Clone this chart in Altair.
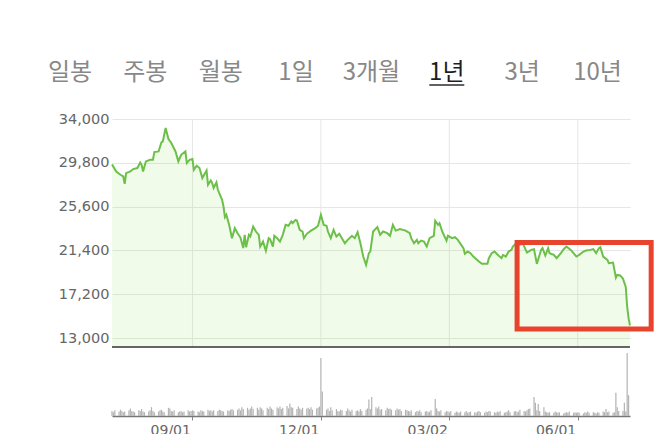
import altair as alt
import pandas as pd

# ---------------- data ----------------
tabs = ["일봉", "주봉", "월봉", "1일", "3개월", "1년", "3년", "10년"]
active_tab = "1년"

price_dates = [
    "2022-07-06", "2022-07-09", "2022-07-12", "2022-07-14", "2022-07-15", "2022-07-16", "2022-07-19",
    "2022-07-21", "2022-07-24", "2022-07-26", "2022-07-27", "2022-07-28", "2022-07-30", "2022-08-02",
    "2022-08-04", "2022-08-05", "2022-08-08", "2022-08-10", "2022-08-11", "2022-08-13", "2022-08-15",
    "2022-08-17", "2022-08-20", "2022-08-22", "2022-08-24", "2022-08-27", "2022-08-28", "2022-08-30",
    "2022-09-01", "2022-09-02", "2022-09-04", "2022-09-06", "2022-09-08", "2022-09-11", "2022-09-12",
    "2022-09-14", "2022-09-15", "2022-09-16", "2022-09-18", "2022-09-19", "2022-09-22", "2022-09-23",
    "2022-09-24", "2022-09-25", "2022-09-27", "2022-09-29", "2022-10-01", "2022-10-03", "2022-10-05",
    "2022-10-07", "2022-10-08", "2022-10-09", "2022-10-11", "2022-10-12", "2022-10-14", "2022-10-16",
    "2022-10-18", "2022-10-19", "2022-10-21", "2022-10-23", "2022-10-25", "2022-10-26", "2022-10-28",
    "2022-10-29", "2022-10-31", "2022-11-02", "2022-11-04", "2022-11-06", "2022-11-08", "2022-11-10",
    "2022-11-11", "2022-11-13", "2022-11-14", "2022-11-16", "2022-11-18", "2022-11-19", "2022-11-21",
    "2022-11-24", "2022-11-27", "2022-11-29", "2022-12-01", "2022-12-03", "2022-12-05", "2022-12-06",
    "2022-12-08", "2022-12-10", "2022-12-12", "2022-12-14", "2022-12-18", "2022-12-20", "2022-12-23",
    "2022-12-25", "2022-12-27", "2022-12-29", "2022-12-31", "2023-01-02", "2023-01-04", "2023-01-05",
    "2023-01-07", "2023-01-10", "2023-01-12", "2023-01-14", "2023-01-17", "2023-01-19", "2023-01-21",
    "2023-01-23", "2023-01-26", "2023-01-30", "2023-02-02", "2023-02-03", "2023-02-05", "2023-02-07",
    "2023-02-08", "2023-02-10", "2023-02-12", "2023-02-14", "2023-02-16", "2023-02-19", "2023-02-20",
    "2023-02-22", "2023-02-23", "2023-02-25", "2023-02-28", "2023-03-01", "2023-03-04", "2023-03-06",
    "2023-03-08", "2023-03-12", "2023-03-13", "2023-03-15", "2023-03-17", "2023-03-19", "2023-03-23",
    "2023-03-25", "2023-03-29", "2023-03-30", "2023-04-01", "2023-04-03", "2023-04-06", "2023-04-08",
    "2023-04-09", "2023-04-11", "2023-04-13", "2023-04-15", "2023-04-16", "2023-04-18", "2023-04-21",
    "2023-04-23", "2023-04-26", "2023-04-29", "2023-05-01", "2023-05-03", "2023-05-06", "2023-05-07",
    "2023-05-09", "2023-05-11", "2023-05-12", "2023-05-15", "2023-05-17", "2023-05-20", "2023-05-22",
    "2023-05-24", "2023-05-27", "2023-05-29", "2023-05-31", "2023-06-02", "2023-06-05", "2023-06-07",
    "2023-06-10", "2023-06-12", "2023-06-14", "2023-06-16", "2023-06-17", "2023-06-19", "2023-06-22",
    "2023-06-23", "2023-06-26", "2023-06-28", "2023-06-29", "2023-07-01", "2023-07-03", "2023-07-05",
    "2023-07-06", "2023-07-07", "2023-07-08",
]
price_values = [
    29650, 28970, 28650, 28490, 27790, 28810, 28970,
    29200, 29300, 29830, 29610, 28970, 29930, 30090,
    30090, 30830, 30890, 31750, 31850, 33130, 32080,
    31700, 30890, 29930, 30570, 30890, 29780, 30090,
    30160, 29130, 29520, 29300, 28340, 29070, 27690,
    28110, 27860, 27380, 27920, 27210, 26250, 25610,
    24590, 24810, 23850, 22570, 23530, 23050, 22630,
    21620, 22890, 21710, 22890, 22730, 23690, 23210,
    22890, 21770, 22250, 21360, 22570, 22480, 21770,
    22800, 22570, 22250, 22890, 23850, 23760, 24170,
    24010, 24330, 24270, 23370, 23210, 22570, 22990,
    23300, 23530, 23760, 24810, 23850, 23760, 23210,
    22570, 23370, 22730, 22990, 22090, 22410, 22800,
    22570, 23150, 22090, 20810, 20010, 21130, 21290,
    23210, 23630, 22890, 23210, 23050, 22800, 23850,
    23300, 23440, 23300, 23050, 22570, 22090, 22410,
    22090, 22340, 22250, 21770, 22570, 22800, 24240,
    23850, 24010, 23210, 22340, 22800, 22570, 22670,
    22410, 21620, 21070, 21290, 21130, 20810, 20330,
    20110, 20110, 20650, 21130, 21290, 20880, 20650,
    20970, 20810, 21290, 21450, 21770, 22030, 21940,
    22090, 21190, 21450, 21520, 20110, 21450, 21620,
    20910, 21620, 21130, 20970, 20650, 21130, 21520,
    21770, 21450, 21130, 20810, 20970, 21290, 21390,
    21450, 21520, 21130, 21620, 21710, 20810, 20490,
    20170, 20230, 18780, 19050, 19000, 18700, 17900,
    16000, 14900, 14200,
]

# daily volume (relative units), one list per month of trading days
volume_by_month = {
    "2022-07": [8, 6, 9, 7, 10, 8, 6, 7, 9, 12, 8, 7, 6, 9, 8, 11, 7, 6],
    "2022-08": [7, 9, 14, 8, 6, 7, 9, 10, 7, 6, 13, 12, 8, 7, 9, 6, 7, 8, 6, 7, 9, 7, 8],
    "2022-09": [9, 8, 7, 6, 9, 8, 7, 10, 8, 9, 7, 9, 8, 10, 9, 8, 7, 9, 8, 10, 11, 9],
    "2022-10": [10, 12, 9, 14, 11, 13, 10, 12, 15, 11, 13, 10, 14, 12, 9, 13, 11, 15, 12, 10, 14],
    "2022-11": [12, 15, 11, 13, 16, 12, 20, 14, 13, 11, 15, 12, 10, 13, 12, 13, 11, 14, 10, 12, 13, 15],
    "2022-12": [92, 39, 10, 12, 8, 14, 9, 11, 8, 7, 10, 9, 8, 12, 9, 7, 10, 8, 9, 7, 11, 8],
    "2023-01": [10, 12, 26, 11, 30, 14, 12, 15, 10, 11, 9, 13, 11, 12, 10, 9, 12, 10, 11, 8, 10, 9],
    "2023-02": [8, 7, 9, 6, 8, 7, 9, 6, 7, 8, 6, 7, 9, 27, 12, 8, 7, 9, 6, 8],
    "2023-03": [7, 6, 8, 5, 7, 6, 5, 7, 6, 8, 5, 6, 7, 6, 5, 7, 8, 6, 5, 7, 6, 8, 7],
    "2023-04": [6, 5, 7, 6, 8, 5, 6, 7, 9, 6, 7, 8, 6, 7, 10, 8, 7, 9, 11, 12],
    "2023-05": [30, 21, 9, 19, 8, 14, 7, 6, 5, 6, 5, 7, 6, 5, 6, 4, 5, 6, 5, 7, 5, 6, 5],
    "2023-06": [6, 5, 4, 6, 5, 7, 5, 6, 5, 4, 6, 5, 7, 6, 11, 6, 7, 5, 6, 37, 14, 8],
    "2023-07": [8, 21, 7, 100, 33],
}
volume_start = "2022-07-06"
volume_end = "2023-07-07"

tick_dates = ["2022-09-01", "2022-12-01", "2023-03-02", "2023-06-01"]
y_ticks = [13000, 17200, 21400, 25600, 29800, 34000]
price_floor = 12137
price_ceiling = 34000
x_start = "2022-07-06"
x_end = "2023-07-08"

box_dates = ["2023-04-19", "2023-07-23"]
box_values = [13863, 22158]

# ---------------- tables ----------------
price_df = pd.DataFrame({"date": price_dates, "price": price_values})
price_df["floor"] = price_floor

vol_rows = []
for month, vals in volume_by_month.items():
    p = pd.Period(month)
    lo = max(p.start_time, pd.Timestamp(volume_start))
    hi = min(p.end_time.normalize(), pd.Timestamp(volume_end))
    days = pd.bdate_range(lo, hi)
    for d, v in zip(days, vals):
        vol_rows.append({"date": d.strftime("%Y-%m-%d"), "vol": v, "zero": 0})
vol_df = pd.DataFrame(vol_rows)

vgrid_df = pd.DataFrame({"date": tick_dates, "top": price_ceiling, "bottom": price_floor})
floor_df = pd.DataFrame({"floor": [price_floor]})
box_df = pd.DataFrame({"date": [box_dates[0]], "date2": [box_dates[1]],
                       "lo": [box_values[0]], "hi": [box_values[1]]})
tabs_df = pd.DataFrame({"tab": tabs})
active_df = pd.DataFrame({"tab": [active_tab]})

# ---------------- layout constants ----------------
W, H = 518, 297
PRICE_PX = 228
VOL_PX = 63


def dt(s):
    y, m, d = (int(t) for t in s.split("-"))
    return alt.DateTime(year=y, month=m, date=d, utc=True)


x_scale = alt.Scale(type="utc", domain=[dt(x_start), dt(x_end)])
x_axis = alt.Axis(
    values=[dt(s) for s in tick_dates], format="%m/%d", title=None, grid=False,
    tickSize=4, tickColor="#888888", domainColor="#777777", domainWidth=1.5,
    labelFont="DejaVu Sans", labelFontSize=14, labelColor="#666666",
    labelAlign="right", labelOffset=-2, labelPadding=3,
    labelOverlap=False, labelFlush=False,
)


def X(field="date"):
    return alt.X(f"{field}:T", scale=x_scale, axis=x_axis)


py_scale = alt.Scale(domain=[price_floor, price_ceiling], range=[PRICE_PX, 0], zero=False, nice=False)
py_axis = alt.Axis(
    values=y_ticks, format=",d", title=None, ticks=False, domain=False,
    gridColor="#e6e6e6", gridWidth=1,
    labelFont="DejaVu Sans", labelFontSize=14.5, labelColor="#666666", labelPadding=3,
)


def PY(field):
    return alt.Y(f"{field}:Q", scale=py_scale, axis=py_axis)


vgrid = alt.Chart(vgrid_df).mark_rule(color="#e6e6e6", strokeWidth=1).encode(
    x=X(), y=PY("top"), y2=alt.Y2("bottom")
)
area = alt.Chart(price_df).mark_area(color="#8ee05a", opacity=0.13).encode(
    x=X(), y=PY("price"), y2=alt.Y2("floor")
)
line = alt.Chart(price_df).mark_line(color="#6cc04a", strokeWidth=2).encode(
    x=X(), y=PY("price")
)
floor_rule = alt.Chart(floor_df).mark_rule(color="#333333", strokeWidth=1.5).encode(
    y=PY("floor")
)
box = alt.Chart(box_df).mark_rect(fillOpacity=0, stroke="#e8432c", strokeWidth=5).encode(
    x=X(), x2=alt.X2("date2:T"), y=PY("lo"), y2=alt.Y2("hi")
)
price_layer = alt.layer(vgrid, area, line, floor_rule, box)

volume = alt.Chart(vol_df).mark_rule(color="#b3b3b3", strokeWidth=1.2).encode(
    x=X(),
    y=alt.Y("vol:Q", scale=alt.Scale(domain=[0, 100], range=[H, H - VOL_PX]), axis=None),
    y2=alt.Y2("zero"),
)

main = alt.layer(price_layer, volume).resolve_scale(y="independent")

tab_x = alt.X("tab:N", scale=alt.Scale(type="point", domain=tabs, range=[-42, 485.5], padding=0), axis=None)
tab_text = alt.Chart(tabs_df).mark_text(
    font="Noto Sans CJK KR", fontSize=24, baseline="alphabetic", align="center"
).encode(
    x=tab_x,
    y=alt.value(-39.5),
    text="tab:N",
    color=alt.condition(alt.datum.tab == active_tab, alt.value("#1e1e1e"), alt.value("#888888")),
)
tab_line = alt.Chart(active_df).mark_tick(
    orient="horizontal", size=35, thickness=2, color="#1e1e1e"
).encode(x=tab_x, y=alt.value(-34))
tabs_layer = alt.layer(tab_text, tab_line)

chart = alt.layer(tabs_layer, main).resolve_scale(x="independent").properties(
    width=W, height=H,
    autosize=alt.AutoSizeParams(type="none"),
    padding={"left": 104, "top": 111, "right": 24, "bottom": 30},
).configure_view(strokeOpacity=0)

chart.save("out.html", embed_options={"renderer": "svg", "actions": False})
